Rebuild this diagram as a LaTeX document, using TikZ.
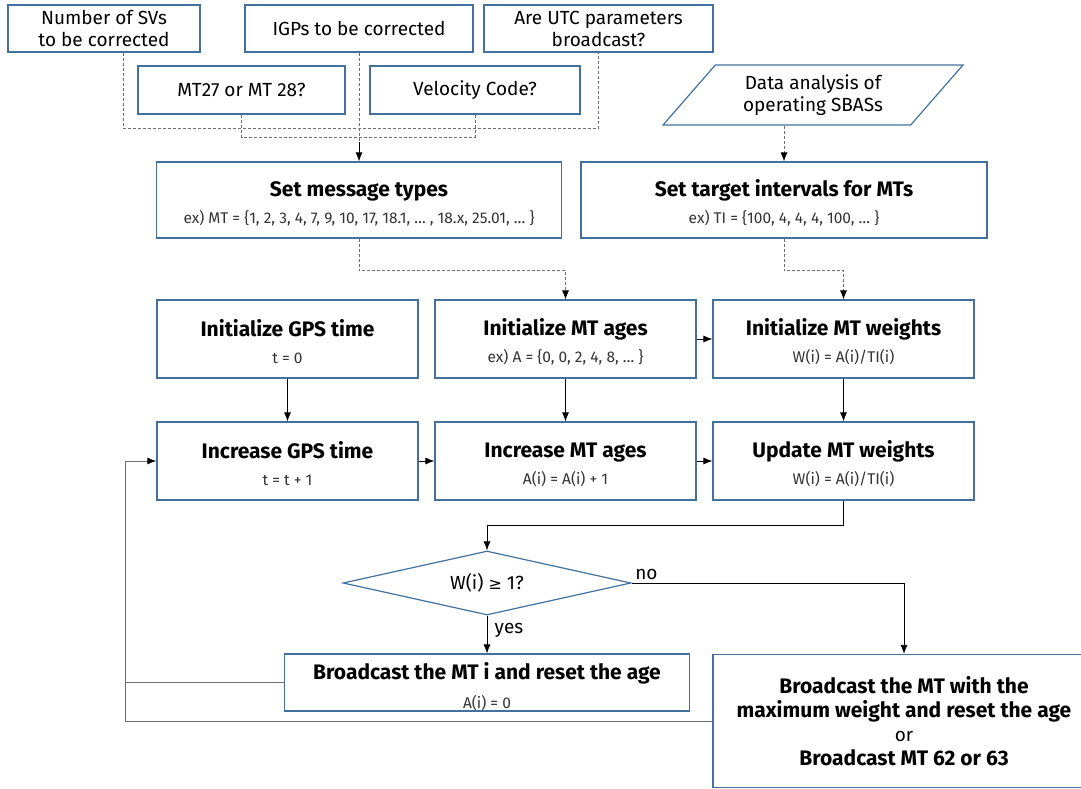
\documentclass[tikz,border=0pt]{standalone}
\usepackage{fontspec}
\setmainfont{Fira Sans}
\newfontfamily\symfont{DejaVu Sans}
\usetikzlibrary{shapes.geometric,arrows.meta}
\definecolor{boxblue}{RGB}{65,113,156}
\definecolor{subgray}{RGB}{51,51,51}
\definecolor{linegray}{RGB}{110,110,110}
\newcommand{\ttl}[1]{{\fontsize{21}{24}\selectfont\bfseries #1}}
\newcommand{\subtxt}[1]{{\fontsize{15.5}{18}\selectfont\color{subgray}#1}}
\newcommand{\twoline}[2]{\rule{0pt}{23pt}\ttl{#1}\\[5pt]\subtxt{#2}}

\begin{document}
\begin{tikzpicture}[x=1pt, y=-1pt, >={Latex[length=9pt,width=7pt,color=black]},
    every node/.style={font=\fontsize{19}{22}\selectfont},
    box/.style={draw=boxblue, line width=1.2pt, inner sep=0pt, align=center},
    io/.style={draw=boxblue, line width=1.2pt, trapezium, trapezium left angle=47.5,
      trapezium right angle=132.5, trapezium stretches=true, minimum width=300pt,
      minimum height=60pt, inner sep=0pt, align=center},
    dec/.style={draw=boxblue, line width=1.2pt, diamond, aspect=4.5, minimum width=288pt,
      minimum height=64pt, inner sep=0pt},
    flow/.style={->, line width=0.8pt},
    dashline/.style={draw=linegray, dash pattern=on 3pt off 2pt, line width=0.8pt},
    fbline/.style={draw=linegray, line width=1pt}]
  \useasboundingbox (0,0) rectangle (1081,789);

  % inputs
  \node[box, minimum width=192pt, minimum height=47pt] (sv) at (104,28.5) {Number of SVs\\to be corrected};
  \node[box, minimum width=228pt, minimum height=47pt] (igp) at (359,28.5) {IGPs to be corrected};
  \node[box, minimum width=229pt, minimum height=47pt] (utc) at (598.5,28.5) {Are UTC parameters\\broadcast?};
  \node[box, minimum width=207pt, minimum height=48pt] (mtq) at (241.5,90) {MT27 or MT 28?};
  \node[box, minimum width=210pt, minimum height=48pt] (vel) at (475,90) {Velocity Code?};
  \node[io] (data) at (813,95) {Data analysis of\\operating SBASs};

  \node[box, minimum width=405pt, minimum height=76pt] (msg) at (359,200)
    {\twoline{Set message types}{ex) MT = \{1, 2, 3, 4, 7, 9, 10, 17, 18.1, … , 18.x, 25.01, … \}}};
  \node[box, minimum width=406pt, minimum height=76pt] (ti) at (784,200)
    {\twoline{Set target intervals for MTs}{ex) TI = \{100, 4, 4, 4, 100, … \}}};

  % initialization
  \node[box, minimum width=261pt, minimum height=78pt] (initt) at (287.5,339)
    {\twoline{Initialize GPS time}{t = 0}};
  \node[box, minimum width=261pt, minimum height=78pt] (inita) at (565.5,339)
    {\twoline{Initialize MT ages}{ex) A = \{0, 0, 2, 4, 8, … \}}};
  \node[box, minimum width=261pt, minimum height=78pt] (initw) at (843.5,339)
    {\twoline{Initialize MT weights}{W(i) = A(i)/TI(i)}};

  % loop
  \node[box, minimum width=261pt, minimum height=78pt] (inct) at (287.5,461)
    {\twoline{Increase GPS time}{t = t + 1}};
  \node[box, minimum width=261pt, minimum height=78pt] (inca) at (565.5,461)
    {\twoline{Increase MT ages}{A(i) = A(i) + 1}};
  \node[box, minimum width=261pt, minimum height=78pt] (updw) at (843.5,461)
    {\twoline{Update MT weights}{W(i) = A(i)/TI(i)}};

  \node[dec] (check) at (487,583) {W(i) {\symfont\fontsize{16}{20}\selectfont ≥} 1?};
  \node[box, minimum width=405pt, minimum height=57pt] (bci) at (487,682.5)
    {\rule{0pt}{25pt}\ttl{Broadcast the MT i and reset the age}\\[7pt]\subtxt{A(i) = 0}};
  \node[box, minimum width=382pt, minimum height=133pt] (bcmax) at (904,721)
    {\ttl{Broadcast the MT with the}\\[2pt]\ttl{maximum weight and reset the age}\\[2pt]or\\[2pt]\ttl{Broadcast MT 62 or 63}};

  \coordinate (jhigh) at (359,128);
  \coordinate (jlow) at (359,137);
  \coordinate (merge) at (359,142);
  \coordinate (back) at (125,721);

  % dashed inputs
  \draw[dashline] ([xshift=19pt]sv.south) |- (jhigh) -| (utc.south);
  \draw[dashline] (mtq.south) |- (jlow) -| (vel.south);
  \draw[dashline] (igp) -- (merge);
  \draw[flow] (merge) -- (msg);
  \draw[dashline,->] (ti.north |- data.south) -- (ti);
  \draw[dashline,->] (msg.south) -- ++(0,32) -| (inita.north);
  \draw[dashline,->] (ti.south) -- ++(0,32) -| (initw.north);

  \draw[flow] (initt) -- (inct);
  \draw[flow] (inita) -- (inca);
  \draw[flow] (initw) -- (updw);
  \draw[flow] (inita) -- (initw);
  \draw[flow] (inct) -- (inca);
  \draw[flow] (inca) -- (updw);

  \draw[flow] (updw.south) -- ++(0,25) -| (check.north);
  \draw[flow] (check) -- node[right=4pt, pos=0.4] {yes} (bci);
  \draw[flow] (check.east) node[above right] {no} -| (bcmax.north);

  \draw[fbline] (bci.west) -- (bci.west -| back);
  \draw[fbline,->] (bcmax.west) -- (back) |- (inct.west);
\end{tikzpicture}
\end{document}
